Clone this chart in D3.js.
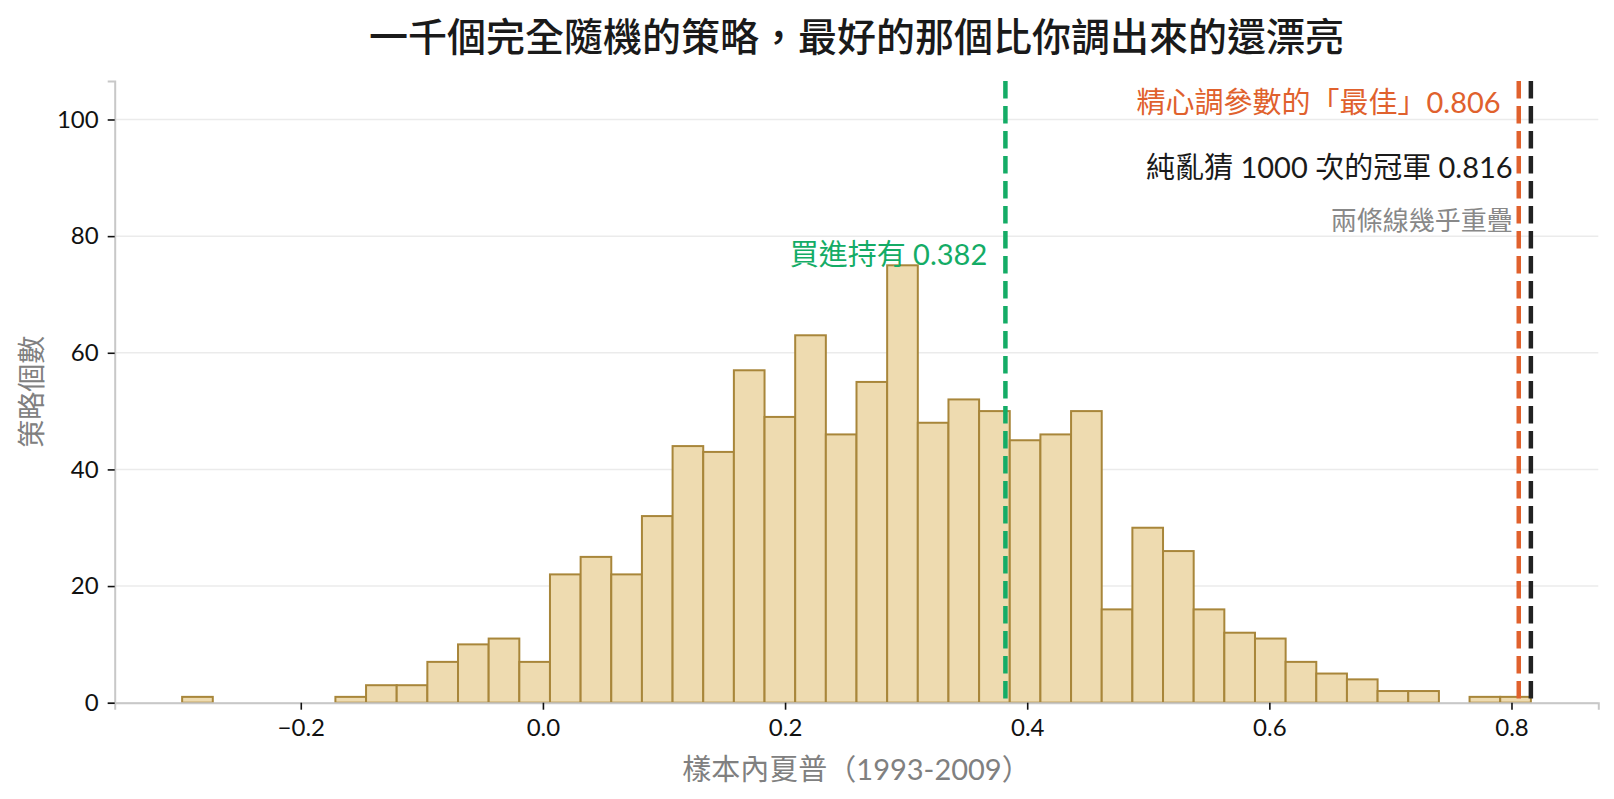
<!DOCTYPE html>
<html lang="zh-Hant">
<head>
<meta charset="UTF-8">
<title>一千個完全隨機的策略</title>
<script src="https://d3js.org/d3.v7.min.js"></script>
<style>
  html, body { margin: 0; padding: 0; background: #fff; }
  svg { display: block; font-family: "Lato", "Noto Sans CJK TC", sans-serif; }
</style>
</head>
<body>
<div id="chart"></div>
<script>
// histogram of in-sample Sharpe for 1000 random strategies
const sharpeMin = -0.298;
const sharpeMax = 0.816;
const binCounts = [1, 0, 0, 0, 0, 1, 3, 3, 7, 10, 11, 7,
                   22, 25, 22, 32, 44, 43, 57, 49, 63, 46, 55, 75,
                   48, 52, 50, 45, 46, 50, 16, 30, 26, 16, 12, 11,
                   7, 5, 4, 2, 2, 0, 1, 1];
const xTicks = [-0.2, 0.0, 0.2, 0.4, 0.6, 0.8];
const yTicks = [0, 20, 40, 60, 80, 100];

// reference lines and their notes
const refLines = [
  { name: "buyhold", value: 0.382, color: "#14ac66" },
  { name: "tuned",   value: 0.806, color: "#e0612d" },
  { name: "random",  value: 0.816, color: "#222222" }
];
const notes = [
  { text: "買進持有 0.382",            x: 0.367, y: 74,  color: "#14ac66", size: 29 },
  { text: "精心調參數的「最佳」0.806",  x: 0.791, y: 100, color: "#e0612d", size: 29 },
  { text: "純亂猜 1000 次的冠軍 0.816", x: 0.801, y: 89,  color: "#1a1a1a", size: 29 },
  { text: "兩條線幾乎重疊",            x: 0.801, y: 80,  color: "#888888", size: 26 }
];

const width = 1614, height = 799;
const plot = { left: 114.7, right: 1598.3, top: 81, bottom: 702.7 };

const svg = d3.select("#chart").append("svg")
  .attr("width", width)
  .attr("height", height);

// matplotlib-style 5% margin on x
const pad = (sharpeMax - sharpeMin) * 0.05;
const x = d3.scaleLinear()
  .domain([sharpeMin - pad, sharpeMax + pad])
  .range([plot.left, plot.right]);
const y = d3.scaleLinear()
  .domain([0, 106.6])
  .range([plot.bottom, plot.top]);

// grid
svg.append("g")
  .selectAll("line")
  .data(yTicks)
  .join("line")
  .attr("x1", plot.left).attr("x2", plot.right)
  .attr("y1", d => y(d)).attr("y2", d => y(d))
  .attr("stroke", "#ebebeb")
  .attr("stroke-width", 1.5);

// bars
const binW = (sharpeMax - sharpeMin) / binCounts.length;
const bins = binCounts.map((c, i) => ({ x0: sharpeMin + i * binW, x1: sharpeMin + (i + 1) * binW, count: c }));

svg.append("g")
  .selectAll("rect")
  .data(bins)
  .join("rect")
  .attr("x", d => x(d.x0))
  .attr("width", d => x(d.x1) - x(d.x0))
  .attr("y", d => y(d.count))
  .attr("height", d => y(0) - y(d.count))
  .attr("fill", "#eedbb0")
  .attr("stroke", "#a8863a")
  .attr("stroke-width", 2);

// axes
const xAxis = svg.append("g")
  .attr("transform", `translate(0,${plot.bottom})`)
  .call(d3.axisBottom(x).tickValues(xTicks).tickFormat(d3.format(".1f")).tickSize(7).tickPadding(9));
const yAxis = svg.append("g")
  .attr("transform", `translate(${plot.left},0)`)
  .call(d3.axisLeft(y).tickValues(yTicks).tickSize(7).tickPadding(9));

[xAxis, yAxis].forEach(ax => {
  ax.select(".domain").attr("stroke", "#c8c8c8").attr("stroke-width", 2);
  ax.selectAll(".tick line").attr("stroke", "#111").attr("stroke-width", 1.6);
  ax.selectAll(".tick text")
    .attr("fill", "#111")
    .style("font-size", "24px")
    .style("font-family", "Lato, 'Noto Sans CJK TC', sans-serif");
});

// vertical reference lines
svg.append("g")
  .selectAll("line")
  .data(refLines)
  .join("line")
  .attr("x1", d => x(d.value)).attr("x2", d => x(d.value))
  .attr("y1", plot.top).attr("y2", plot.bottom)
  .attr("stroke", d => d.color)
  .attr("stroke-width", 4.5)
  .attr("stroke-dasharray", "17.5 7.5");

// notes
svg.append("g")
  .selectAll("text")
  .data(notes)
  .join("text")
  .attr("x", d => x(d.x))
  .attr("y", d => y(d.y) - 6)
  .attr("text-anchor", "end")
  .attr("fill", d => d.color)
  .style("font-size", d => d.size + "px")
  .text(d => d.text);

// titles
svg.append("text")
  .attr("x", (plot.left + plot.right) / 2)
  .attr("y", 51)
  .attr("text-anchor", "middle")
  .attr("fill", "#1a1a1a")
  .style("font-size", "39px")
  .style("font-weight", "500")
  .text("一千個完全隨機的策略，最好的那個比你調出來的還漂亮");

svg.append("text")
  .attr("x", (plot.left + plot.right) / 2)
  .attr("y", 780)
  .attr("text-anchor", "middle")
  .attr("fill", "#808080")
  .style("font-size", "29px")
  .text("樣本內夏普（1993-2009）");

svg.append("text")
  .attr("transform", `translate(42,${(plot.top + plot.bottom) / 2}) rotate(-90)`)
  .attr("text-anchor", "middle")
  .attr("fill", "#808080")
  .style("font-size", "28px")
  .text("策略個數");
</script>
</body>
</html>
